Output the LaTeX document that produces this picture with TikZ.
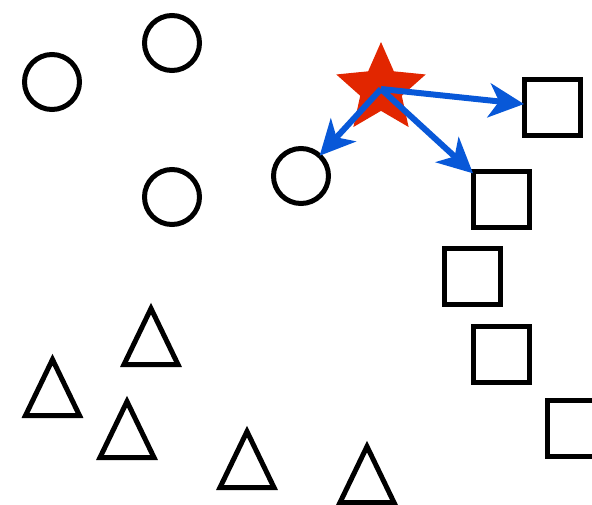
\documentclass[tikz,border=0pt]{standalone}
\usetikzlibrary{shapes.geometric,arrows.meta,math}
\definecolor{linkblue}{RGB}{8,88,216}
\definecolor{queryred}{RGB}{226,38,0}
\begin{document}
\begin{tikzpicture}[x=1pt,y=-1pt]

\tikzmath{
	\L = 5;
}

\tikzset{
  ring/.style={draw, circle, line width=\L pt, minimum size=55pt, inner sep=0pt, outer sep=0pt},
  box/.style={draw, rectangle, line width=\L pt, minimum size=56pt, inner sep=0pt, outer sep=0pt},
  tri/.style={draw, line width=\L pt, miter limit=10},
  query/.style={star, star points=5, star point ratio=2.15, fill=queryred,
    minimum size=94pt, inner sep=0pt, outer sep=0pt},
  link/.style={-{Stealth[length=35pt, width=34pt, inset=10pt]}, line width=6pt, linkblue}
}

\useasboundingbox (0,0) rectangle (592,504);

% circles
\node[ring] (c1) at (52,82) {};
\node[ring] (c2) at (172,43) {};
\node[ring] (c3) at (172,197) {};
\node[ring] (c4) at (301,176) {};

% squares
\node[box] (s1) at (552,107) {};
\node[box] (s2) at (501,199) {};
\node[box] (s3) at (472,276) {};
\node[box] (s4) at (501,354) {};
\node[box] (s5) at (575,428) {};

% triangles
\foreach \x/\y in {151/364.5, 52.5/415.5, 127/457.5, 247/487.5, 367/502.5}
  \draw[tri] (\x-27,\y) -- (\x,\y-56) -- (\x+27,\y) -- cycle;

% query point
\node[query] (q) at (381,89) {};

\draw [link] (q.center) -- (c4);
\draw [link] (q.center) -- (s1);
\draw [link] (q.center) -- (s2);

\end{tikzpicture}
\end{document}
